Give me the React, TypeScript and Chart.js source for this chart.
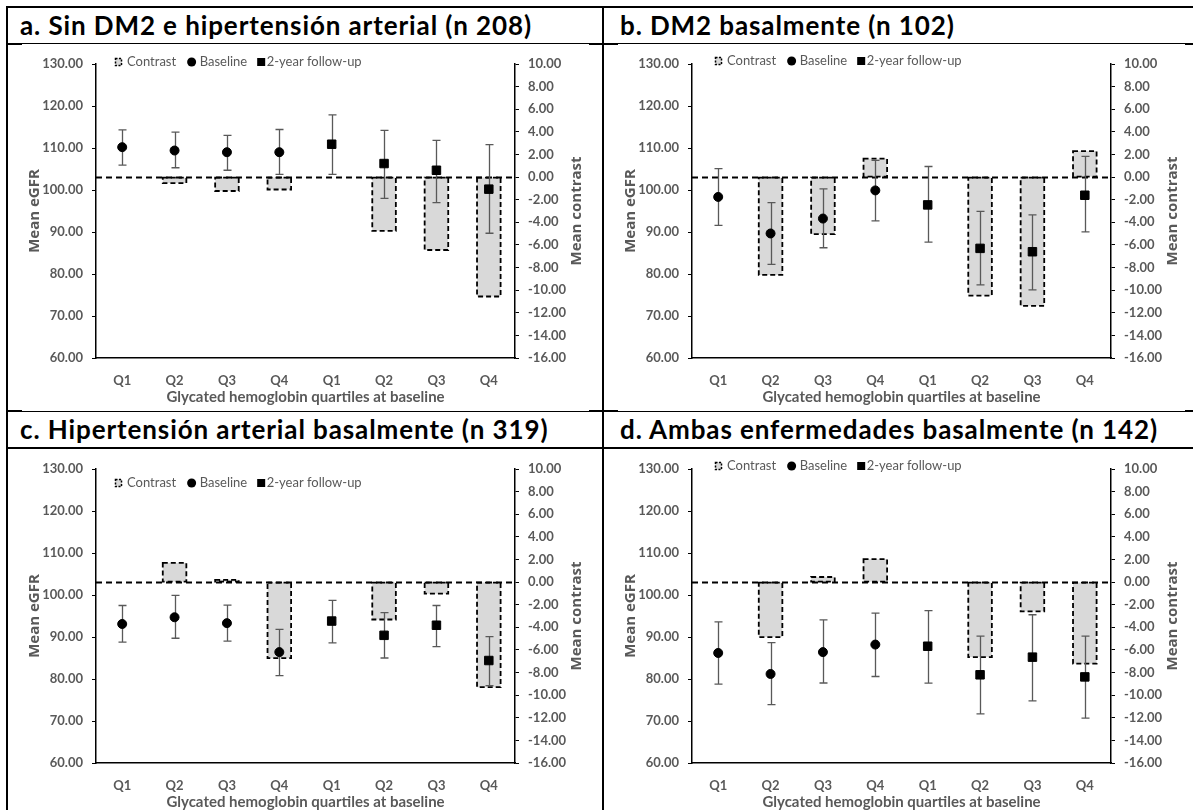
import React, { useEffect, useRef } from "react";
import { Chart, registerables } from "chart.js";

Chart.register(...registerables);

// ---------- shared axis / label data ----------
const QUARTILES = ["Q1", "Q2", "Q3", "Q4", "Q1", "Q2", "Q3", "Q4"];
const LEFT_MIN = 60;
const LEFT_MAX = 130;
const LEFT_STEP = 10;
const RIGHT_MIN = -16;
const RIGHT_MAX = 10;
const RIGHT_STEP = 2;
const X_TITLE = "Glycated hemoglobin quartiles at baseline";
const LEFT_TITLE = "Mean eGFR";
const RIGHT_TITLE = "Mean contrast";
const LEGEND_LABELS = ["Contrast", "Baseline", "2-year follow-up"];

// ---------- panel a ----------
const A_TITLE = "a. Sin DM2 e hipertensión arterial (n 208)";
const A_BASELINE = [110.2, 109.4, 109.0, 109.0];
const A_BASELINE_LOW = [105.9, 105.3, 104.7, 103.7];
const A_BASELINE_HIGH = [114.3, 113.8, 113.0, 114.4];
const A_FOLLOWUP = [110.9, 106.3, 104.7, 100.2];
const A_FOLLOWUP_LOW = [103.7, 98.0, 97.0, 89.7];
const A_FOLLOWUP_HIGH = [117.9, 114.2, 111.8, 110.8];
const A_CONTRAST = [null, -0.53, -1.23, -1.1, null, -4.75, -6.45, -10.56];

// ---------- panel b ----------
const B_TITLE = "b. DM2 basalmente (n 102)";
const B_BASELINE = [98.35, 89.65, 93.2, 99.9];
const B_BASELINE_LOW = [91.6, 82.3, 86.25, 92.65];
const B_BASELINE_HIGH = [105.1, 97.0, 100.25, 107.05];
const B_FOLLOWUP = [96.45, 86.1, 85.3, 98.75];
const B_FOLLOWUP_LOW = [87.6, 77.4, 76.2, 90.05];
const B_FOLLOWUP_HIGH = [105.6, 94.9, 94.1, 108.0];
const B_CONTRAST = [null, -8.65, -5.04, 1.63, null, -10.48, -11.39, 2.3];

// ---------- panel c ----------
const C_TITLE = "c. Hipertensión arterial basalmente (n 319)";
const C_BASELINE = [93.1, 94.7, 93.3, 86.4];
const C_BASELINE_LOW = [88.8, 89.7, 89.0, 80.8];
const C_BASELINE_HIGH = [97.5, 99.9, 97.6, 91.8];
const C_FOLLOWUP = [93.8, 90.4, 92.8, 84.4];
const C_FOLLOWUP_LOW = [88.6, 85.0, 87.7, 78.4];
const C_FOLLOWUP_HIGH = [98.7, 95.8, 97.5, 90.1];
const C_CONTRAST = [null, 1.7, 0.2, -6.73, null, -3.31, -1.03, -9.29];

// ---------- panel d ----------
const D_TITLE = "d. Ambas enfermedades basalmente (n 142)";
const D_BASELINE = [86.2, 81.2, 86.4, 88.2];
const D_BASELINE_LOW = [78.8, 73.9, 79.05, 80.6];
const D_BASELINE_HIGH = [93.6, 88.65, 94.1, 95.7];
const D_FOLLOWUP = [87.8, 81.0, 85.2, 80.5];
const D_FOLLOWUP_LOW = [79.0, 71.7, 74.8, 70.7];
const D_FOLLOWUP_HIGH = [96.3, 90.2, 95.3, 90.2];
const D_CONTRAST = [null, -4.86, 0.45, 2.03, null, -6.63, -2.59, -7.22];

// ---------- style constants ----------
const FONT = "Lato";
const GRAY = "#595959";
const FILL = "#D9D9D9";
const CANVAS_W = 567;
const CANVAS_H = 367;

const decorPlugin = {
  id: "decor",
  afterDatasetDraw(chart: any, args: any, opts: any) {
    if (args.meta.type !== "bar") return;
    const ctx = chart.ctx;
    const area = chart.chartArea;
    const xs = chart.scales.x;
    const ys = chart.scales.y;
    const y1 = chart.scales.y1;
    ctx.save();
    // dashed outlines of contrast bars
    ctx.strokeStyle = "#000";
    ctx.lineWidth = 1.8;
    ctx.setLineDash([5, 3]);
    const values = chart.data.datasets[args.index].data;
    args.meta.data.forEach((bar: any, i: number) => {
      if (values[i] == null) return;
      const p = bar.getProps(["x", "y", "base", "width"], true);
      ctx.strokeRect(p.x - p.width / 2, Math.min(p.y, p.base), p.width, Math.abs(p.base - p.y));
    });
    // dashed zero line of the contrast axis
    const zy = Math.round(y1.getPixelForValue(0)) + 0.5;
    ctx.lineWidth = 2;
    ctx.setLineDash([6, 4]);
    ctx.beginPath();
    ctx.moveTo(area.left, zy);
    ctx.lineTo(area.right, zy);
    ctx.stroke();
    // error bars
    ctx.setLineDash([]);
    ctx.strokeStyle = GRAY;
    ctx.lineWidth = 1.3;
    const low: number[] = opts.low;
    const high: number[] = opts.high;
    low.forEach((lo, i) => {
      const px = Math.round(xs.getPixelForValue(i)) + 0.5;
      const pl = ys.getPixelForValue(lo);
      const ph = ys.getPixelForValue(high[i]);
      ctx.beginPath();
      ctx.moveTo(px, pl);
      ctx.lineTo(px, ph);
      ctx.moveTo(px - 4, pl);
      ctx.lineTo(px + 4, pl);
      ctx.moveTo(px - 4, ph);
      ctx.lineTo(px + 4, ph);
      ctx.stroke();
    });
    ctx.restore();
  },
  afterDraw(chart: any, _args: any, opts: any) {
    const ctx = chart.ctx;
    const area = chart.chartArea;
    ctx.save();
    // right axis title (reads bottom-to-top)
    const y1 = chart.scales.y1;
    ctx.font = "bold 15px 'Open Sans'";
    ctx.fillStyle = GRAY;
    ctx.textAlign = "center";
    ctx.textBaseline = "middle";
    ctx.translate(y1.right - 12, (area.top + area.bottom) / 2);
    ctx.rotate(-Math.PI / 2);
    ctx.fillText(RIGHT_TITLE, 0, 0);
    ctx.setTransform(1, 0, 0, 1, 0, 0);

    // legend
    let x = area.left + opts.legendDx;
    const y = area.top + opts.legendDy;
    ctx.font = `13px ${FONT}`;
    ctx.textAlign = "left";
    ctx.textBaseline = "middle";
    ctx.fillStyle = FILL;
    ctx.fillRect(x, y - 4, 7, 8);
    ctx.strokeStyle = "#000";
    ctx.lineWidth = 1.5;
    ctx.setLineDash([2, 1.5]);
    ctx.strokeRect(x + 0.5, y - 3.5, 6, 7);
    ctx.setLineDash([]);
    x += 12;
    ctx.fillStyle = GRAY;
    ctx.fillText(LEGEND_LABELS[0], x, y);
    x += ctx.measureText(LEGEND_LABELS[0]).width + 11;
    ctx.fillStyle = "#000";
    ctx.beginPath();
    ctx.arc(x + 4.5, y, 4.5, 0, Math.PI * 2);
    ctx.fill();
    x += 12.5;
    ctx.fillStyle = GRAY;
    ctx.fillText(LEGEND_LABELS[1], x, y);
    x += ctx.measureText(LEGEND_LABELS[1]).width + 10;
    ctx.fillStyle = "#000";
    ctx.fillRect(x, y - 4, 8, 8);
    x += 9.5;
    ctx.fillStyle = GRAY;
    ctx.fillText(LEGEND_LABELS[2], x, y);
    ctx.restore();
  },
};

type PanelProps = {
  left: number;
  top: number;
  baseline: number[];
  baselineLow: number[];
  baselineHigh: number[];
  followup: number[];
  followupLow: number[];
  followupHigh: number[];
  contrast: (number | null)[];
  legendDx: number;
  legendDy: number;
};

function Panel(p: PanelProps) {
  const ref = useRef<HTMLCanvasElement>(null);
  useEffect(() => {
    if (!ref.current) return;
    const half = QUARTILES.length / 2;
    const basePts = QUARTILES.map((_, i) => (i < half ? p.baseline[i] : null));
    const followPts = QUARTILES.map((_, i) => (i >= half ? p.followup[i - half] : null));
    const low = QUARTILES.map((_, i) => (i < half ? p.baselineLow[i] : p.followupLow[i - half]));
    const high = QUARTILES.map((_, i) => (i < half ? p.baselineHigh[i] : p.followupHigh[i - half]));
    const tickFont = { family: FONT, size: 13, weight: "bold" as const };
    const chart = new Chart(ref.current, {
      type: "bar",
      data: {
        labels: QUARTILES,
        datasets: [
          {
            type: "line",
            label: LEGEND_LABELS[1],
            data: basePts,
            yAxisID: "y",
            showLine: false,
            pointStyle: "circle",
            pointRadius: 4.5,
            pointBorderWidth: 1,
            pointBackgroundColor: "#000",
            pointBorderColor: "#000",
            order: 0,
          } as any,
          {
            type: "line",
            label: LEGEND_LABELS[2],
            data: followPts,
            yAxisID: "y",
            showLine: false,
            pointStyle: "rect",
            pointRadius: 6,
            pointBorderWidth: 1,
            pointBackgroundColor: "#000",
            pointBorderColor: "#000",
            order: 0,
          } as any,
          {
            type: "bar",
            label: LEGEND_LABELS[0],
            data: p.contrast,
            yAxisID: "y1",
            backgroundColor: FILL,
            borderWidth: 0,
            barPercentage: 0.45,
            categoryPercentage: 1,
            order: 1,
          } as any,
        ],
      },
      options: {
        animation: false,
        responsive: false,
        devicePixelRatio: 1,
        events: [],
        layout: { padding: { top: 20, left: 0, right: 0, bottom: 0 } },
        plugins: {
          legend: { display: false },
          tooltip: { enabled: false },
          decor: { low, high, legendDx: p.legendDx, legendDy: p.legendDy },
        } as any,
        scales: {
          x: {
            type: "category",
            grid: { display: false, drawTicks: false },
            border: { display: true, color: "#000", width: 1.5 },
            ticks: { color: GRAY, font: tickFont, padding: 15, maxRotation: 0, autoSkip: false },
            title: {
              display: true,
              text: X_TITLE,
              color: GRAY,
              font: { family: FONT, size: 15, weight: "bold" },
              padding: { top: 0, bottom: 5 },
            },
            afterFit: (s: any) => {
              s.height = 53;
            },
          },
          y: {
            type: "linear",
            position: "left",
            min: LEFT_MIN,
            max: LEFT_MAX,
            grid: { display: true, drawOnChartArea: false, drawTicks: true, tickLength: 4, color: "#000", lineWidth: 1 },
            border: { display: true, color: "#000", width: 1.5 },
            ticks: {
              stepSize: LEFT_STEP,
              color: GRAY,
              font: tickFont,
              padding: 9,
              callback: (v: any) => Number(v).toFixed(2),
            },
            title: {
              display: true,
              text: LEFT_TITLE,
              color: GRAY,
              font: { family: "Open Sans", size: 15, weight: "bold" },
              padding: { top: 4, bottom: 0 },
            },
            afterFit: (s: any) => {
              s.width = 74;
            },
          },
          y1: {
            type: "linear",
            position: "right",
            min: RIGHT_MIN,
            max: RIGHT_MAX,
            grid: { display: true, drawOnChartArea: false, drawTicks: true, tickLength: 4, color: "#000", lineWidth: 1 },
            border: { display: true, color: "#000", width: 1.5 },
            ticks: {
              stepSize: RIGHT_STEP,
              color: GRAY,
              font: tickFont,
              padding: 9,
              callback: (v: any) => Number(v).toFixed(2),
            },
            afterFit: (s: any) => {
              s.width = 74;
            },
          },
        },
      } as any,
      plugins: [decorPlugin],
    });
    return () => chart.destroy();
  }, []);
  return (
    <div
      style={{
        position: "absolute",
        left: p.left,
        top: p.top,
        width: CANVAS_W,
        height: CANVAS_H,
        background: "#fff",
      }}
    >
      <canvas ref={ref} width={CANVAS_W} height={CANVAS_H} style={{ display: "block" }} />
    </div>
  );
}

const line = (left: number, top: number, width: number, height: number) => (
  <div style={{ position: "absolute", left, top, width, height, background: "#000" }} />
);

const titleStyle = (left: number, top: number): React.CSSProperties => ({
  position: "absolute",
  left,
  top,
  fontFamily: FONT,
  fontWeight: 700,
  fontSize: 26,
  lineHeight: "26px",
  letterSpacing: "0.9px",
  color: "#000",
  whiteSpace: "nowrap",
});

export default function App() {
  return (
    <div
      style={{
        position: "fixed",
        left: 0,
        top: 0,
        width: 1193,
        height: 810,
        overflow: "hidden",
        background: "#fff",
      }}
    >
      {line(6, 6, 1187, 2)}
      {line(6, 6, 2, 804)}
      {line(602, 6, 2, 804)}
      {line(6, 43, 1187, 2)}
      {line(6, 410, 1187, 2)}
      {line(6, 447, 1187, 2)}
      <div style={titleStyle(20, 12)}>{A_TITLE}</div>
      <div style={titleStyle(620, 12)}>{B_TITLE}</div>
      <div style={titleStyle(20, 416)}>{C_TITLE}</div>
      <div style={titleStyle(620, 416)}>{D_TITLE}</div>
      <Panel
        left={22}
        top={44}
        baseline={A_BASELINE}
        baselineLow={A_BASELINE_LOW}
        baselineHigh={A_BASELINE_HIGH}
        followup={A_FOLLOWUP}
        followupLow={A_FOLLOWUP_LOW}
        followupHigh={A_FOLLOWUP_HIGH}
        contrast={A_CONTRAST}
        legendDx={19}
        legendDy={-2}
      />
      <Panel
        left={618}
        top={44}
        baseline={B_BASELINE}
        baselineLow={B_BASELINE_LOW}
        baselineHigh={B_BASELINE_HIGH}
        followup={B_FOLLOWUP}
        followupLow={B_FOLLOWUP_LOW}
        followupHigh={B_FOLLOWUP_HIGH}
        contrast={B_CONTRAST}
        legendDx={23}
        legendDy={-3}
      />
      <Panel
        left={22}
        top={449}
        baseline={C_BASELINE}
        baselineLow={C_BASELINE_LOW}
        baselineHigh={C_BASELINE_HIGH}
        followup={C_FOLLOWUP}
        followupLow={C_FOLLOWUP_LOW}
        followupHigh={C_FOLLOWUP_HIGH}
        contrast={C_CONTRAST}
        legendDx={19}
        legendDy={14}
      />
      <Panel
        left={618}
        top={449}
        baseline={D_BASELINE}
        baselineLow={D_BASELINE_LOW}
        baselineHigh={D_BASELINE_HIGH}
        followup={D_FOLLOWUP}
        followupLow={D_FOLLOWUP_LOW}
        followupHigh={D_FOLLOWUP_HIGH}
        contrast={D_CONTRAST}
        legendDx={23}
        legendDy={-3}
      />
    </div>
  );
}
